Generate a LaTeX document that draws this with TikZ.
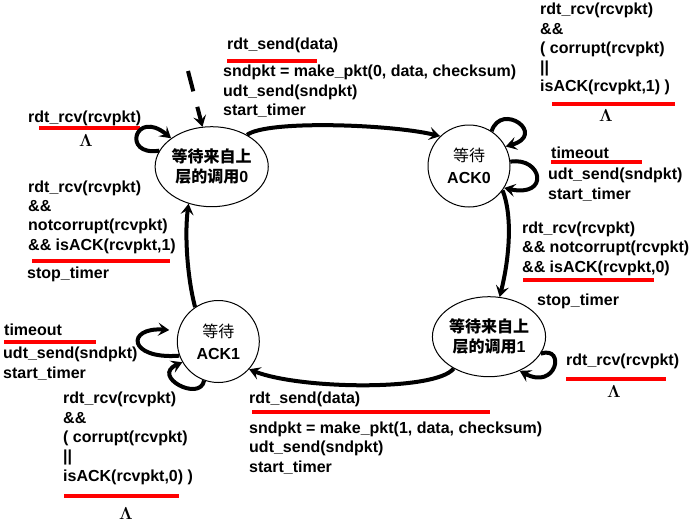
\documentclass[tikz,border=0pt]{standalone}
\usepackage{bm}
\usepackage{fontspec}
\setmainfont{Liberation Sans}
\newfontfamily\cjk{Noto Sans CJK SC}
\usetikzlibrary{arrows,arrows.meta,shapes}

\begin{document}
\begin{tikzpicture}[x=1pt,y=-1pt]
\tikzstyle{ackstate} = [circle, draw, line width=1pt, fill=white, minimum size=82pt, inner sep=0pt, align=center, font=\fontsize{16}{22}\selectfont];%
\tikzstyle{callstate} = [ellipse, draw, line width=1pt, fill=white, minimum width=87pt, minimum height=80pt, inner sep=0pt, align=center, font=\fontsize{16}{20}\selectfont];%
% multi-line labels sit on the baseline of their last line
\tikzstyle{lbl} = [anchor=base west, inner sep=0pt, align=left, font=\bfseries\fontsize{16}{19.3}\selectfont];%
\tikzstyle{lam} = [anchor=base west, inner sep=0pt, font=\fontsize{18}{18}\selectfont];%
\tikzstyle{trans} = [-{Stealth[length=11pt,width=13pt,inset=4.5pt]}, line width=4pt];%
\tikzstyle{guard} = [red, line width=4pt];%

\useasboundingbox (0,0) rectangle (693,519);

% states
\node at (211.7,166.7) [callstate] (call0) {{\cjk\bfseries 等待来自上}\\{\cjk\bfseries 层的调用}\textbf{0}};
\node at (469,166)     [ackstate] (ack0) {{\cjk 等待}\\\textbf{ACK0}};
\node at (489,336.7)   [callstate] (call1) {{\cjk\bfseries 等待来自上}\\{\cjk\bfseries 层的调用}\textbf{1}};
\node at (218.3,341.5) [ackstate] (ack1) {{\cjk 等待}\\\textbf{ACK1}};
\coordinate (init) at (188,71);

% labels
\node at (227,50)  [lbl] (send0) {rdt\_send(data)};
\node at (223,115.5) [lbl] (act0) {sndpkt = make\_pkt(0, data, checksum)\\udt\_send(sndpkt)\\start\_timer};
\node at (28,122)  [lbl] (rcv0) {rdt\_rcv(rcvpkt)};
\node at (79,146)  [lam] (lam0) {$\bm{\Lambda}$};
\node at (28,250)  [lbl] (ok1) {rdt\_rcv(rcvpkt)\\\&\&\\notcorrupt(rcvpkt)\\\&\& isACK(rcvpkt,1)};
\node at (27,278)  [lbl] (stop1) {stop\_timer};
\node at (540,92)  [lbl] (bad0) {rdt\_rcv(rcvpkt)\\\&\&\\( corrupt(rcvpkt)\\||\\isACK(rcvpkt,1) )};
\node at (599,121) [lam] (lam1) {$\bm{\Lambda}$};
\node at (551,158) [lbl] (tout0) {timeout};
\node at (548,199) [lbl] (resend0) {udt\_send(sndpkt)\\start\_timer};
\node at (522,272) [lbl] (ok0) {rdt\_rcv(rcvpkt)\\\&\& notcorrupt(rcvpkt)\\\&\& isACK(rcvpkt,0)};
\node at (537,305) [lbl] (stop0) {stop\_timer};
\node at (566,365) [lbl] (rcv1) {rdt\_rcv(rcvpkt)};
\node at (607,397) [lam] (lam2) {$\bm{\Lambda}$};
\node at (249,403) [lbl] (send1) {rdt\_send(data)};
\node at (249,472) [lbl] (act1) {sndpkt = make\_pkt(1, data, checksum)\\udt\_send(sndpkt)\\start\_timer};
\node at (4,335)   [lbl] (tout1) {timeout};
\node at (3,378)   [lbl] (resend1) {udt\_send(sndpkt)\\start\_timer};
\node at (63,481)  [lbl] (bad1) {rdt\_rcv(rcvpkt)\\\&\&\\( corrupt(rcvpkt)\\||\\isACK(rcvpkt,0) )};
\node at (119,519) [lam] (lam3) {$\bm{\Lambda}$};

% red bars under the events
\draw[guard] (227,61) -- (317,61);
\draw[guard] (39,128) -- (140,128);
\draw[guard] (32,261) -- (170,261);
\draw[guard] (552,104) -- (675,104);
\draw[guard] (551,162) -- (642,162);
\draw[guard] (523,280) -- (654,280);
\draw[guard] (566,379) -- (666,379);
\draw[guard] (252,412) -- (490,412);
\draw[guard] (4,342) -- (96,342);
\draw[guard] (64,496) -- (179,496);

% transitions
\draw[trans, dash pattern=on 21pt off 16pt] (init) -- (call0.103);
\draw[trans] (call0.42) .. controls +(20,-15) and +(-50,-12) .. (ack0.134);
\draw[trans] (ack0.324) .. controls +(10,25) and +(10,-40) .. (call1.75.5);
\draw[trans] (call1.222) .. controls +(-18,23) and +(50,20) .. (ack1.318);
\draw[trans] (ack1.124) .. controls +(-8,-30) and +(-4,30) .. (call0.238);

% self loops
\draw[trans] (call0.163) .. controls +(-38,6) and +(-36,-30) .. (call0.145);
\draw[trans] (ack0.57) .. controls +(10,-30) and +(42,-12) .. (ack0.28);
\draw[trans] (ack0.6) .. controls +(32,-5) and +(46,10) .. (ack0.328);
\draw[trans] (call1.342) .. controls +(25,-8) and +(37,20) .. (call1.312);
\draw[trans, shorten >=9pt] (ack1.200) .. controls +(-52,4) and +(-52,-4) .. (ack1.165);
\draw[trans] (ack1.250) .. controls +(-4,22) and +(-32,14) .. (ack1.210);

\end{tikzpicture}
\end{document}
